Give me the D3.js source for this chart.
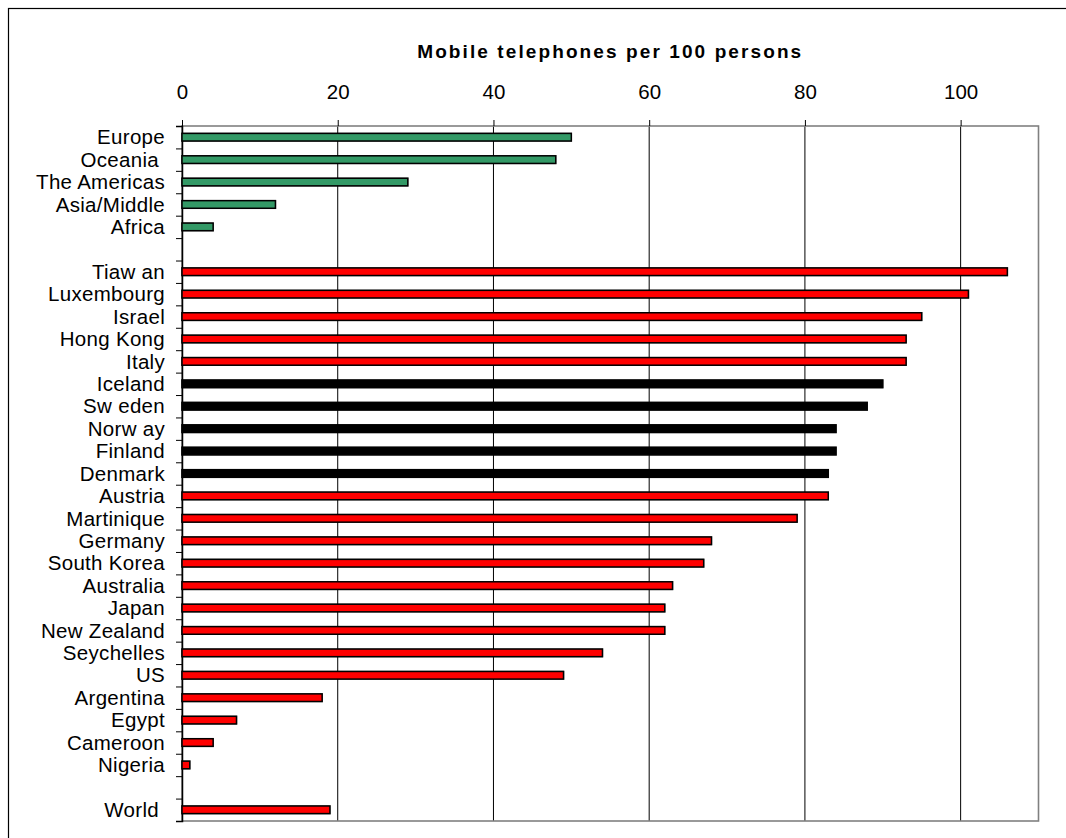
<!DOCTYPE html>
<html>
<head>
<meta charset="utf-8">
<script src="https://cdn.jsdelivr.net/npm/d3@7"></script>
<style>
  body { margin: 0; background: #fff; }
  text { font-family: "Liberation Sans", Arial, sans-serif; white-space: pre; }
</style>
</head>
<body>
<svg id="chart"></svg>
<script>
// rows top to bottom, "" = empty spacer row
const categories = [
  "Europe", "Oceania ", "The Americas", "Asia/Middle", "Africa", "",
  "Tiaw an", "Luxembourg", "Israel", "Hong Kong", "Italy",
  "Iceland", "Sw eden", "Norw ay", "Finland", "Denmark",
  "Austria", "Martinique", "Germany", "South Korea", "Australia",
  "Japan", "New Zealand", "Seychelles", "US", "Argentina",
  "Egypt", "Cameroon", "Nigeria", "", "World "
];
const values = [
  50, 48, 29, 12, 4, null,
  106, 101, 95, 93, 93,
  90, 88, 84, 84, 83,
  83, 79, 68, 67, 63,
  62, 62, 54, 49, 18,
  7, 4, 1, null, 19
];
const groups = [
  "region", "region", "region", "region", "region", null,
  "country", "country", "country", "country", "country",
  "nordic", "nordic", "nordic", "nordic", "nordic",
  "country", "country", "country", "country", "country",
  "country", "country", "country", "country", "country",
  "country", "country", "country", null, "country"
];
const xTicks = [0, 20, 40, 60, 80, 100];
const title = "Mobile telephones per 100 persons";

const colors = { region: "#339966", country: "#ff0000", nordic: "#000000" };

const width = 1066;
const height = 838;

const svg = d3.select("#chart")
  .attr("width", width)
  .attr("height", height);

const margin = { top: 126, right: 27.5, bottom: 17, left: 182 };

// outer frame (runs past the window on right and bottom)
svg.append("rect")
  .attr("x", 8.5)
  .attr("y", 8.5)
  .attr("width", 1200)
  .attr("height", 1000)
  .attr("fill", "none")
  .attr("stroke", "#000")
  .attr("stroke-width", 1.2);

const xScale = d3.scaleLinear()
  .domain([0, 110])
  .range([margin.left, width - margin.right]);

const yScale = d3.scaleBand()
  .domain(d3.range(categories.length))
  .range([margin.top, height - margin.bottom])
  .paddingInner(0.66)
  .paddingOuter(0.33);

// row boundary ticks on the left axis
const rowScale = d3.scaleLinear()
  .domain([0, categories.length])
  .range([margin.top, height - margin.bottom]);

// ===== GRIDLINES =====
svg.append("g")
  .selectAll("line")
  .data(xTicks.filter(d => d > 0))
  .enter()
  .append("line")
  .attr("x1", d => xScale(d))
  .attr("x2", d => xScale(d))
  .attr("y1", margin.top)
  .attr("y2", height - margin.bottom)
  .attr("stroke", "#000")
  .attr("stroke-width", 1);

// plot frame
svg.append("rect")
  .attr("x", margin.left)
  .attr("y", margin.top)
  .attr("width", xScale(110) - margin.left)
  .attr("height", height - margin.bottom - margin.top)
  .attr("fill", "none")
  .attr("stroke", "#808080")
  .attr("stroke-width", 1.6);

// ===== TOP AXIS =====
const xAxis = svg.append("g")
  .attr("transform", `translate(0,${margin.top})`)
  .call(d3.axisTop(xScale)
    .tickValues(xTicks)
    .tickSize(6)
    .tickPadding(21));

xAxis.select(".domain").remove();
xAxis.selectAll(".tick line").attr("stroke", "#000");
xAxis.selectAll(".tick text")
  .attr("font-size", 20.5)
  .attr("font-family", "Liberation Sans, Arial, sans-serif")
  .attr("fill", "#000");

// ===== LEFT AXIS =====
const yAxis = svg.append("g")
  .attr("transform", `translate(${margin.left},0)`)
  .call(d3.axisLeft(rowScale)
    .tickValues(d3.range(categories.length + 1))
    .tickSize(6)
    .tickFormat(""));

yAxis.select(".domain")
  .attr("stroke", "#000")
  .attr("stroke-width", 1.5);
yAxis.selectAll(".tick line").attr("stroke", "#000");

// ===== BARS =====
const rows = categories.map((c, i) => ({ i, name: c, value: values[i], group: groups[i] }));

svg.append("g")
  .selectAll("rect")
  .data(rows.filter(d => d.value !== null))
  .enter()
  .append("rect")
  .attr("x", xScale(0))
  .attr("y", d => yScale(d.i))
  .attr("width", d => xScale(d.value) - xScale(0))
  .attr("height", yScale.bandwidth())
  .attr("fill", d => colors[d.group])
  .attr("stroke", "#000")
  .attr("stroke-width", 1.5)
  .style("filter", "drop-shadow(0.5px 0.5px 0.6px rgba(0,0,0,0.45))");

// ===== CATEGORY LABELS =====
svg.append("g")
  .selectAll("text")
  .data(rows.filter(d => d.name !== ""))
  .enter()
  .append("text")
  .attr("x", 165)
  .attr("y", d => yScale(d.i) + yScale.bandwidth() / 2)
  .attr("dy", "0.35em")
  .attr("text-anchor", "end")
  .attr("font-size", 20.5)
  .attr("letter-spacing", 0.3)
  .attr("fill", "#000")
  .text(d => d.name);

// ===== TITLE =====
svg.append("text")
  .attr("x", (margin.left + xScale(110)) / 2)
  .attr("y", 57.5)
  .attr("text-anchor", "middle")
  .attr("font-size", 19)
  .attr("font-weight", 700)
  .attr("letter-spacing", 2.1)
  .attr("fill", "#000")
  .text(title);
</script>
</body>
</html>
